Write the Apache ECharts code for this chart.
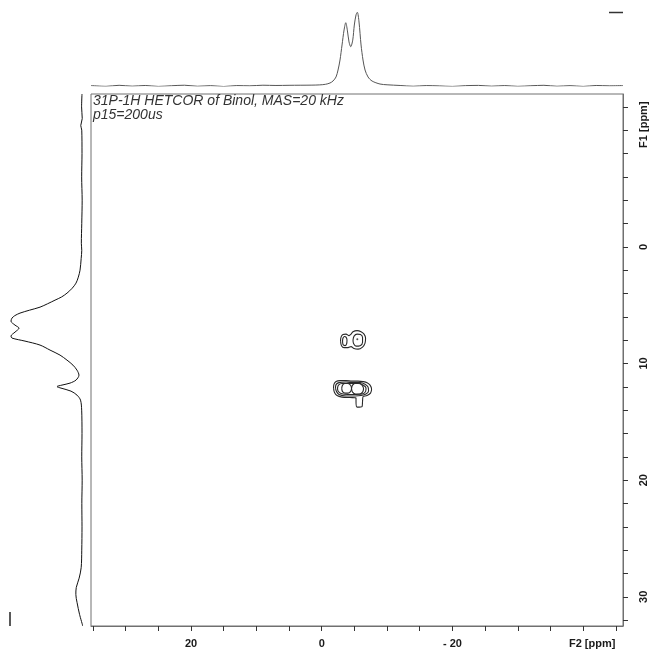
<!DOCTYPE html>
<html>
<head>
<meta charset="utf-8">
<script src="https://cdn.jsdelivr.net/npm/echarts@6/dist/echarts.min.js"></script>
<style>
  html, body { margin: 0; padding: 0; background: #fff; }
  #chart { width: 652px; height: 653px; }
</style>
</head>
<body>
<div id="chart"></div>
<script>
// 31P-1H HETCOR spectrum of Binol: 2D contour plot with F2 (31P) projection on top
// and F1 (1H) projection on the left.

// Axis ranges (ppm)
const f2Range = [-46.1, 35.3];
const f1Range = [-13.1, 32.5];

// Tick positions and labelled values
const f2Ticks = [35, 30, 25, 20, 15, 10, 5, 0, -5, -10, -15, -20, -25, -30, -35, -40, -45];
const f2Labels = [20, 0, -20, -40];
const f1Ticks = [-12, -10, -8, -6, -4, -2, 0, 2, 4, 6, 8, 10, 12, 14, 16, 18, 20, 22, 24, 26, 28, 30, 32];
const f1Labels = [-10, 0, 10, 20, 30];

const titleLines = ['31P-1H HETCOR of Binol, MAS=20 kHz', 'p15=200us'];

// F2 projection: [F2 ppm, intensity]
const f2Projection = [
  [35.3, 0.5], [33, -0.4], [31, 0.8], [29, -0.2], [27, 0.6], [25, -0.5], [23, 0.3], [21, 0.9],
  [19, -0.3], [17, 0.4], [15, -0.6], [13, 0.5], [11, 0.2], [9, 0.9], [7, 0.6], [5, 0.8],
  [3.3, 0.9], [1.5, 1.0], [0.3, 1.3], [-0.6, 2.0], [-1.27, 3.5], [-1.73, 5.8], [-2.19, 10.5],
  [-2.5, 18.6], [-2.8, 30.2], [-3.11, 47.7], [-3.42, 65.1], [-3.68, 73.6], [-3.92, 65.0],
  [-4.18, 51.2], [-4.44, 45.7], [-4.75, 53.5], [-4.99, 70.9], [-5.25, 82.6], [-5.45, 85.7],
  [-5.71, 74.4], [-6.02, 47.7], [-6.32, 30.2], [-6.63, 18.6], [-7.09, 10.5], [-7.7, 5.8],
  [-8.92, 2.3], [-10, 1.4], [-12, 0.6], [-14, -0.3], [-16, 0.5], [-18, 0.1], [-20, -0.5],
  [-22, 0.4], [-24, 0.7], [-26, -0.2], [-28, 0.5], [-30, -0.4], [-32, 0.3], [-34, 0.8],
  [-36, -0.3], [-38, 0.4], [-40, -0.5], [-42, 0.6], [-44, 0.2], [-46.1, 0.5]
];

// F1 projection: [intensity, F1 ppm]
const f1Projection = [
  [0, -13.1], [0.5, -12], [-0.3, -11], [1.5, -10.4], [0.3, -10], [0, -8], [0.4, -6], [-0.2, -4],
  [0.3, -2], [0.8, -0.3], [0.3, 0.3], [1.0, 1.0], [2.4, 2.0], [4.5, 2.6], [7.3, 3.11], [12, 3.55],
  [18.3, 3.97], [25, 4.3], [32.9, 4.57], [42, 4.88], [51.2, 5.17], [64, 5.43], [75.6, 5.68],
  [82, 5.9], [85.4, 6.11], [86.6, 6.37], [81.7, 6.71], [76.8, 6.97], [81.7, 7.31], [86.6, 7.65],
  [85.4, 7.82], [69.5, 8.08], [51.2, 8.42], [39, 8.85], [26.8, 9.28], [18.3, 9.71], [11, 10.14],
  [6.1, 10.57], [3.7, 11.0], [7.3, 11.42], [14.6, 11.68], [24.4, 11.85], [30.5, 11.98],
  [25.6, 12.11], [13.4, 12.37], [6.1, 12.71], [1.8, 13.14], [0.4, 14], [0, 16], [0.3, 18],
  [-0.2, 20], [0.2, 22], [0, 24], [0.3, 26], [1, 27.5], [3.5, 28.4], [7, 29.2], [7.5, 29.8],
  [6, 30.5], [3, 31.5], [-1, 32.5]
];

// Contour rings: [F2 ppm, F1 ppm]
const contourUpperOuter = [
  [-2.88, 8.08], [-2.96, 7.74], [-3.26, 7.52], [-3.72, 7.48], [-4.18, 7.61], [-4.49, 7.48],
  [-4.79, 7.27], [-5.41, 7.18], [-6.02, 7.27], [-6.48, 7.48], [-6.71, 7.82], [-6.63, 8.25],
  [-6.25, 8.59], [-5.56, 8.77], [-4.95, 8.72], [-4.49, 8.55], [-4.03, 8.64], [-3.41, 8.64],
  [-3.03, 8.47], [-2.88, 8.08]
];
const contourUpperLeft = [
  [-3.19, 8.08], [-3.26, 7.82], [-3.49, 7.69], [-3.72, 7.74], [-3.87, 7.99], [-3.80, 8.34],
  [-3.57, 8.47], [-3.26, 8.38], [-3.19, 8.08]
];
const contourUpperRight = [
  [-4.79, 7.99], [-4.95, 7.65], [-5.41, 7.48], [-5.94, 7.52], [-6.25, 7.78], [-6.25, 8.17],
  [-5.87, 8.47], [-5.25, 8.51], [-4.87, 8.29], [-4.79, 7.99]
];
const contourUpperCentre = [[-5.45, 7.93]];
const contourLowerOuter = [
  [-1.81, 12.11], [-1.88, 11.77], [-2.19, 11.55], [-2.80, 11.47], [-3.72, 11.47], [-4.64, 11.51],
  [-5.56, 11.51], [-6.32, 11.55], [-6.94, 11.64], [-7.40, 11.85], [-7.63, 12.19], [-7.47, 12.54],
  [-6.94, 12.75], [-6.32, 12.84], [-6.25, 13.22], [-6.17, 13.69], [-5.41, 13.74], [-5.25, 13.31],
  [-5.25, 12.96], [-4.33, 12.92], [-3.11, 12.88], [-2.34, 12.75], [-1.96, 12.49], [-1.81, 12.11]
];
const contourLowerSecond = [
  [-2.11, 12.11], [-2.19, 11.81], [-2.65, 11.64], [-3.72, 11.59], [-4.79, 11.64], [-5.87, 11.64],
  [-6.63, 11.77], [-7.09, 12.02], [-7.17, 12.36], [-6.78, 12.62], [-6.02, 12.75], [-5.10, 12.79],
  [-3.72, 12.79], [-2.65, 12.66], [-2.27, 12.41], [-2.11, 12.11]
];
const contourLowerThird = [
  [-2.42, 12.11], [-2.57, 11.85], [-3.11, 11.72], [-4.33, 11.72], [-5.56, 11.72], [-6.32, 11.85],
  [-6.78, 12.11], [-6.71, 12.41], [-6.17, 12.62], [-5.25, 12.66], [-4.03, 12.66], [-2.96, 12.58],
  [-2.50, 12.36], [-2.42, 12.11]
];
const contourLowerLeft = [
  [-3.06, 12.13], [-3.19, 11.85], [-3.57, 11.72], [-4.03, 11.72], [-4.44, 11.89], [-4.56, 12.15],
  [-4.41, 12.41], [-4.03, 12.54], [-3.57, 12.54], [-3.19, 12.41], [-3.06, 12.13]
];
const contourLowerRight = [
  [-4.56, 12.15], [-4.72, 11.85], [-5.18, 11.68], [-5.71, 11.68], [-6.17, 11.85], [-6.40, 12.15],
  [-6.25, 12.45], [-5.79, 12.62], [-5.18, 12.62], [-4.72, 12.45], [-4.56, 12.15]
];
const contourRings = [
  contourUpperOuter, contourUpperLeft, contourUpperRight,
  contourLowerOuter, contourLowerSecond, contourLowerThird, contourLowerLeft, contourLowerRight
];

const FONT = '"Liberation Sans", Arial, Helvetica, sans-serif';
const labelStyle = { fontFamily: FONT, fontWeight: 'bold', fontSize: 11, color: '#1a1a1a' };

const chart = echarts.init(document.getElementById('chart'), null, { renderer: 'canvas' });

const contourSeries = contourRings.map(ring => ({
  type: 'line', xAxisIndex: 0, yAxisIndex: 0, data: ring,
  showSymbol: false, smooth: 0.35, silent: true, animation: false,
  lineStyle: { color: '#2a2a2a', width: 1.1 }
}));

chart.setOption({
  animation: false,
  backgroundColor: '#ffffff',
  grid: [
    { left: 91, top: 94, width: 532, height: 532, show: true, borderColor: '#707070', borderWidth: 1,
      backgroundColor: 'transparent', containLabel: false, outerBoundsMode: 'none' },
    { left: 91, top: 0, width: 532, height: 86, containLabel: false, outerBoundsMode: 'none' },
    { left: 0, top: 94, width: 82, height: 532, containLabel: false, outerBoundsMode: 'none' }
  ],
  xAxis: [
    {
      gridIndex: 0, type: 'value', inverse: true, min: f2Range[0], max: f2Range[1],
      position: 'bottom',
      axisLine: { show: true, onZero: false, lineStyle: { color: '#707070', width: 1 } },
      splitLine: { show: false },
      axisTick: { show: true, customValues: f2Ticks, length: 5, inside: false,
        lineStyle: { color: '#333', width: 1 } },
      axisLabel: {
        show: true, customValues: f2Labels, margin: 12, ...labelStyle,
        formatter: v => v === -40 ? '{f|F2 [ppm]}' : (v < 0 ? '- ' + Math.abs(v) : String(v)),
        rich: { f: { ...labelStyle, padding: [0, 0, 0, 18] } }
      }
    },
    { gridIndex: 1, type: 'value', inverse: true, min: f2Range[0], max: f2Range[1], show: false },
    { gridIndex: 2, type: 'value', inverse: true, min: 0, max: 100, show: false }
  ],
  yAxis: [
    {
      gridIndex: 0, type: 'value', inverse: true, min: f1Range[0], max: f1Range[1],
      position: 'right',
      axisLine: { show: true, onZero: false, lineStyle: { color: '#707070', width: 1 } },
      splitLine: { show: false },
      axisTick: { show: true, customValues: f1Ticks, length: 5, inside: false,
        lineStyle: { color: '#333', width: 1 } },
      axisLabel: {
        show: true, customValues: f1Labels, rotate: 90, margin: 15, ...labelStyle,
        formatter: v => v === -10 ? '{f|F1 [ppm]}' : String(v),
        rich: { f: { ...labelStyle, padding: [0, 0, 0, 11] } }
      }
    },
    { gridIndex: 1, type: 'value', min: 0, max: 100, show: false },
    { gridIndex: 2, type: 'value', inverse: true, min: f1Range[0], max: f1Range[1], show: false }
  ],
  graphic: [
    { type: 'text', left: 93, top: 94, silent: true,
      style: { text: titleLines.join('\n'), font: 'italic 14px ' + FONT, lineHeight: 14, fill: '#333' } },
    { type: 'line', silent: true, shape: { x1: 609, y1: 12.5, x2: 623, y2: 12.5 },
      style: { stroke: '#333', lineWidth: 1.5 } },
    { type: 'line', silent: true, shape: { x1: 10, y1: 612, x2: 10, y2: 626 },
      style: { stroke: '#222', lineWidth: 1.5 } }
  ],
  series: [
    ...contourSeries,
    { type: 'scatter', xAxisIndex: 0, yAxisIndex: 0, data: contourUpperCentre, symbol: 'circle',
      symbolSize: 2, silent: true, itemStyle: { color: '#222' } },
    { type: 'line', xAxisIndex: 1, yAxisIndex: 1, data: f2Projection, showSymbol: false, smooth: 0.3,
      silent: true, lineStyle: { color: '#555', width: 1 } },
    { type: 'line', xAxisIndex: 2, yAxisIndex: 2, data: f1Projection, showSymbol: false, smooth: 0.3,
      silent: true, lineStyle: { color: '#111', width: 1 } }
  ]
});
</script>
</body>
</html>
